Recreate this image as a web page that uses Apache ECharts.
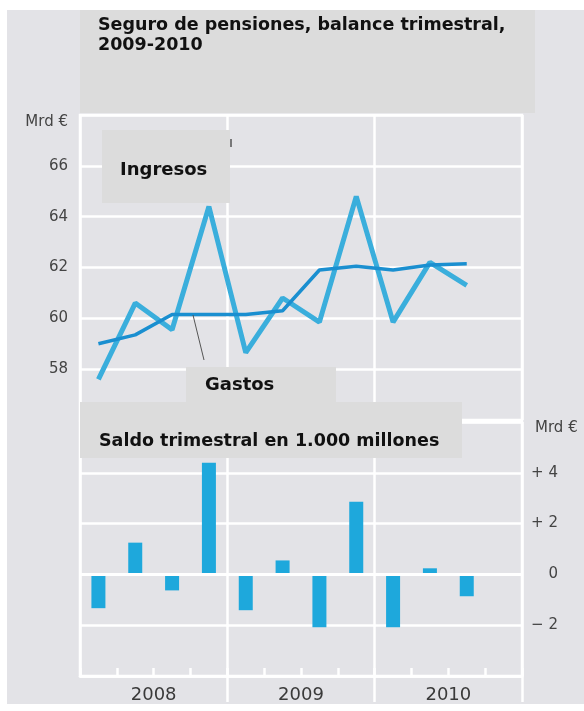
<!DOCTYPE html>
<html>
<head>
<meta charset="utf-8">
<script src="https://cdn.jsdelivr.net/npm/echarts@6/dist/echarts.min.js"></script>
<style>
  html, body { margin: 0; padding: 0; background: #fff; }
  .chart-box { position: relative; width: 584px; height: 711px; }
  .chart-bg { position: absolute; left: 7px; top: 10px; width: 577px; height: 694px; background: #e3e3e7; }
  .chart-item { position: absolute; left: 0; top: 0; width: 584px; height: 711px; }
</style>
</head>
<body>
<div class="chart-box">
  <div class="chart-bg"></div>
  <div id="echarts0" class="chart-item"></div>
</div>
<script>
// datos
let quarters = ['2008 T1', '2008 T2', '2008 T3', '2008 T4', '2009 T1', '2009 T2', '2009 T3', '2009 T4', '2010 T1', '2010 T2', '2010 T3', '2010 T4']
let years = ['2008', '2009', '2010']
let ingresos = [57.6, 60.6, 59.55, 64.4, 58.65, 60.8, 59.85, 64.8, 59.85, 62.2, 61.3, null]
let gastos = [59.0, 59.35, 60.15, 60.15, 60.15, 60.3, 61.9, 62.05, 61.9, 62.1, 62.15, null]
let saldo = [-1.33, 1.25, -0.63, 4.4, -1.41, 0.55, -2.08, 2.86, -2.08, 0.24, -0.86, null]
let topTicks = [58, 60, 62, 64, 66]
let bottomTicks = { '4': '+ 4', '2': '+ 2', '0': '0', '-2': '\u2212 2' }

let font = '"DejaVu Sans", sans-serif'
let white = '#ffffff'
let boxColor = '#dcdcdc'

function box (x, y, w, h) {
  return { type: 'rect', z: 100, shape: { x: x, y: y, width: w, height: h }, style: { fill: boxColor } }
}
function label (x, y, text, size) {
  return { type: 'text', z: 101, x: x, y: y, style: { text: text, fill: '#111', font: 'bold ' + size + 'px ' + font, verticalAlign: 'middle' } }
}

let chart = echarts.init(document.getElementById('echarts0'), null, { renderer: 'canvas' })

let option = {
  animation: false,
  grid: [
    { left: 80, right: 62, top: 115, height: 305, show: true, borderColor: white, borderWidth: 2.5, backgroundColor: 'transparent' },
    { left: 80, right: 62, top: 422, height: 254, show: true, borderColor: white, borderWidth: 2.5, backgroundColor: 'transparent' }
  ],
  xAxis: [
    { gridIndex: 0, type: 'category', data: quarters, boundaryGap: true, axisLine: { show: false }, axisTick: { show: false }, axisLabel: { show: false } },
    { gridIndex: 0, type: 'category', data: years, boundaryGap: true, axisLine: { show: false }, axisTick: { show: false }, axisLabel: { show: false },
      splitLine: { show: true, lineStyle: { color: white, width: 2.5 } } },
    { gridIndex: 1, type: 'category', data: quarters, boundaryGap: true, position: 'bottom',
      axisLine: { show: true, onZero: false, lineStyle: { color: white, width: 2.5 } },
      axisTick: { show: true, inside: true, interval: 0, length: 8, lineStyle: { color: white, width: 2.5 } },
      axisLabel: { show: false, interval: 0 } },
    { gridIndex: 1, type: 'category', data: years, boundaryGap: true, position: 'bottom',
      axisLine: { show: false, onZero: false },
      axisTick: { show: true, length: 26, interval: function (i) { return i === 1 || i === 2 }, lineStyle: { color: white, width: 2.5 } },
      axisLabel: { show: true, margin: 10, fontSize: 18, fontFamily: font, color: '#3a3a3a' },
      splitLine: { show: true, lineStyle: { color: white, width: 2.5 } } }
  ],
  yAxis: [
    { gridIndex: 0, type: 'value', min: 56, max: 68, interval: 2, position: 'left',
      name: 'Mrd €', nameLocation: 'end', nameGap: -7,
      nameTextStyle: { align: 'right', verticalAlign: 'middle', padding: [0, 12, 0, 0], fontSize: 15, fontFamily: font, color: '#444' },
      axisLine: { show: false }, axisTick: { show: false },
      axisLabel: { margin: 12, fontSize: 15, fontFamily: font, color: '#444',
        formatter: function (v) { return topTicks.includes(v) ? String(v) : '' } },
      splitLine: { show: true, lineStyle: { color: white, width: 2.5 } } },
    { gridIndex: 1, type: 'value', min: -4, max: 6, interval: 2, position: 'right',
      name: 'Mrd €', nameLocation: 'end', nameGap: -6,
      nameTextStyle: { align: 'left', verticalAlign: 'middle', padding: [0, 0, 0, 13], fontSize: 15, fontFamily: font, color: '#444' },
      axisLine: { show: false }, axisTick: { show: false },
      axisLabel: { margin: 36, align: 'right', fontSize: 15, fontFamily: font, color: '#444',
        formatter: function (v) { return bottomTicks[String(v)] || '' } },
      splitLine: { show: true, lineStyle: { color: white, width: 2.5 } } }
  ],
  series: [
    { name: 'Ingresos', type: 'line', xAxisIndex: 0, yAxisIndex: 0, data: ingresos,
      symbol: 'none', lineStyle: { color: '#3aaedc', width: 5 }, z: 3 },
    { name: 'Gastos', type: 'line', xAxisIndex: 0, yAxisIndex: 0, data: gastos,
      symbol: 'none', lineStyle: { color: '#1a8fd0', width: 3.5 }, z: 4 },
    { name: 'Saldo', type: 'bar', xAxisIndex: 2, yAxisIndex: 1, data: saldo,
      barWidth: 14, itemStyle: { color: '#1ea8dc' },
      markLine: { silent: true, symbol: ['none', 'none'], label: { show: false },
        lineStyle: { color: white, width: 3, type: 'solid' }, data: [{ yAxis: 0 }] } }
  ],
  graphic: [
    // lineas de referencia de las etiquetas
    { type: 'line', z: 99, shape: { x1: 193, y1: 315, x2: 204, y2: 360 }, style: { stroke: '#555', lineWidth: 1 } },
    { type: 'line', z: 99, shape: { x1: 231, y1: 139, x2: 231, y2: 147 }, style: { stroke: '#555', lineWidth: 1.5 } },
    box(80, 10, 455, 103),
    box(102, 130, 128, 73),
    box(186, 367, 150, 35),
    box(80, 402, 382, 56),
    label(98, 25, 'Seguro de pensiones, balance trimestral,', 17.5),
    label(98, 45, '2009-2010', 17.5),
    label(120, 170, 'Ingresos', 18),
    label(205, 385, 'Gastos', 18),
    label(99, 441, 'Saldo trimestral en 1.000 millones', 17.5)
  ]
}

chart.setOption(option)
</script>
</body>
</html>
